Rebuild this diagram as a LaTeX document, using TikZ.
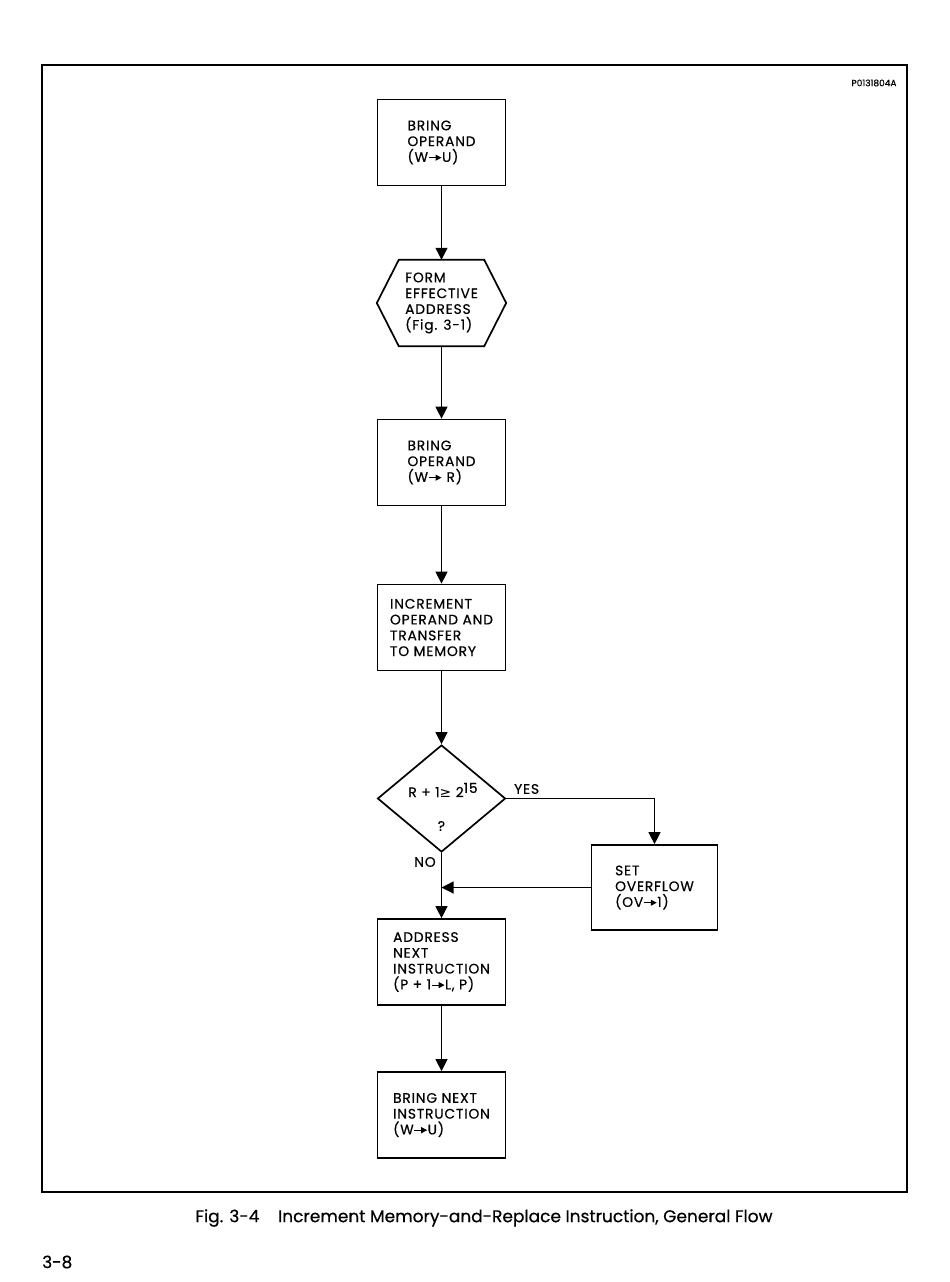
\documentclass[tikz,border=0pt]{standalone}
\usepackage{fontspec}
\setmainfont{Poppins}[FakeBold=0.5]
\newfontfamily\symf{DejaVu Sans}
\usetikzlibrary{arrows.meta,shapes.geometric,calc}
\newcommand{\arr}{\tikz[baseline=0pt]\draw[line width=1pt,-{Triangle[length=6pt,width=6pt]}] (0pt,4.2pt) -- (13pt,4.2pt);}
\newcommand{\boxfont}{\fontsize{13.8}{15.8}\selectfont\addfontfeatures{LetterSpace=6}}
\begin{document}
\begin{tikzpicture}[x=1pt,y=-1pt,
  box/.style={draw,line width=1.7pt,minimum width=128pt,minimum height=86pt,inner sep=0pt,align=left,font=\boxfont},
  conn/.style={line width=1.1pt},
  arrowc/.style={conn,-{Triangle[length=12pt,width=12pt]}},
  lbl/.style={font=\boxfont,inner sep=0pt}]
\useasboundingbox (0,0) rectangle (950,1282);
\node[draw,line width=1.5pt,minimum width=865pt,minimum height=1127pt,inner sep=0pt] (frame) at (474.5,628.5) {};
\node[font=\fontsize{9}{10}\selectfont,inner sep=0pt] (code) at (874,83) {P0131804A};
\node[box] (b1) at (441.5,142.5) {BRING\\OPERAND\\(W\arr U)};
\node[minimum width=129pt,minimum height=86pt,inner sep=0pt,align=left,font=\boxfont] (hex) at (441.5,303) {FORM\\EFFECTIVE\\ADDRESS\\(Fig. 3-1)};
\draw[line width=1.7pt] ($(hex.north west)+(22,0)$) -- ($(hex.north east)+(-22,0)$) -- (hex.east) -- ($(hex.south east)+(-22,0)$) -- ($(hex.south west)+(22,0)$) -- (hex.west) -- cycle;
\node[box] (b3) at (441.5,462.5) {BRING\\OPERAND\\(W\arr\ R)};
\node[box] (b4) at (441.5,627.5) {INCREMENT\\OPERAND AND\\TRANSFER\\TO MEMORY};
\node[diamond,draw,line width=1.7pt,minimum width=128pt,minimum height=107pt,inner sep=0pt] (dec) at (441.5,798.5) {};
\node[lbl] (dt) at (443,790) {R + 1{\symf ≥} 2\raisebox{0.55ex}{15}};
\node[lbl] (dq) at (441.5,826) {?};
\node[box,minimum width=126pt,minimum height=85pt] (ov) at (654.5,887.5) {SET\\OVERFLOW\\(OV\arr 1)};
\node[box] (b5) at (441.5,962) {ADDRESS\\NEXT\\INSTRUCTION\\(P + 1\arr L, P)};
\node[box] (b6) at (441.5,1115) {BRING NEXT\\INSTRUCTION\\(W\arr U)};
\node[lbl,anchor=west] (yes) at (514,789) {YES};
\node[lbl] (no) at (425,862) {NO};
\draw[arrowc] (b1) -- (hex);
\draw[arrowc] (hex) -- (b3);
\draw[arrowc] (b3) -- (b4);
\draw[arrowc] (b4) -- (dec);
\draw[arrowc] (dec.east) -- (dec.east -| ov.north) -- (ov.north);
\draw[arrowc] (dec.south) -- (b5.north);
\coordinate (m) at (dec.south |- ov.west);
\draw[arrowc] (ov.west) -- (m);
\draw[arrowc] (b5) -- (b6);
\node[font=\fontsize{17}{20}\selectfont,inner sep=0pt] (cap) at (484,1218) {Fig. 3-4\hspace{1.1em}Increment Memory-and-Replace Instruction, General Flow};
\node[font=\fontsize{17}{20}\selectfont,inner sep=0pt,anchor=west] (pg) at (42,1262) {3-8};
\end{tikzpicture}
\end{document}
